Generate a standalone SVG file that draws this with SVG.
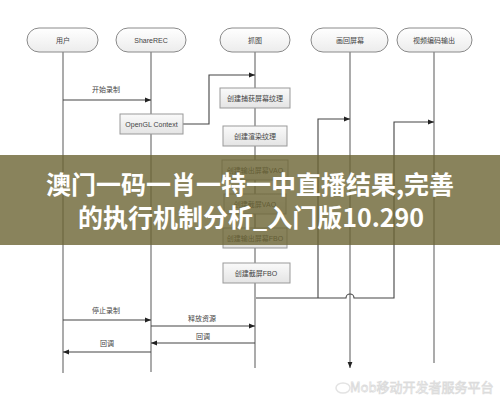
<svg xmlns="http://www.w3.org/2000/svg" width="500" height="400" viewBox="0 0 500 400">
<defs>
<linearGradient id="gh" x1="0" y1="0" x2="0" y2="1"><stop offset="0" stop-color="#ffffff"/><stop offset="1" stop-color="#ececec"/></linearGradient>
<linearGradient id="gb" x1="0" y1="0" x2="0" y2="1"><stop offset="0" stop-color="#fafafa"/><stop offset="1" stop-color="#e4e4e4"/></linearGradient>
<marker id="ar" viewBox="0 0 10 10" refX="10" refY="5" markerWidth="6" markerHeight="6" orient="auto" markerUnits="userSpaceOnUse"><path d="M0,1 L10,5 L0,9 Z" fill="#222"/></marker>
<style>
.head{fill:url(#gh);stroke:#8a8a8a;stroke-width:1}
.box{fill:url(#gb);stroke:#999;stroke-width:1}
.life{stroke:#666;stroke-width:1.1;fill:none}
.msg{stroke:#444;stroke-width:1.1;fill:none}
.t{font-family:"Liberation Sans","Noto Sans CJK SC",sans-serif;font-size:7px;fill:#444;text-anchor:middle}
.ban{font-family:"Noto Sans CJK SC",sans-serif;font-size:25px;font-weight:bold;fill:#fff;text-anchor:middle}
</style>
</defs>
<rect width="500" height="400" fill="#fff"/>
<g id="lifelines">
<line class="life" x1="63" y1="52" x2="63" y2="373"/>
<line class="life" x1="151" y1="52" x2="151" y2="372"/>
<line class="life" x1="255" y1="52" x2="255" y2="368"/>
<line class="life" x1="350" y1="52" x2="350" y2="368" marker-end="url(#ar)"/>
<line class="life" x1="434" y1="52" x2="434" y2="363"/>
</g>
<g id="connectors">
<path class="msg" d="M63 100 H151" marker-end="url(#ar)"/>
<path class="msg" d="M183 124 H209 V75 H255" marker-end="url(#ar)"/>
<path class="msg" d="M256 298 H346 A4 4 0 0 1 354 298 H394 V122 H434" marker-end="url(#ar)"/>
<path class="msg" d="M318 298 V119 H350" marker-end="url(#ar)"/>
<path class="msg" d="M63 320 H151" marker-end="url(#ar)"/>
<path class="msg" d="M151 326 H255" marker-end="url(#ar)"/>
<path class="msg" d="M255 343 H151" marker-end="url(#ar)"/>
<path class="msg" d="M151 352 H63" marker-end="url(#ar)"/>
<text class="t" x="106" y="92">开始录制</text>
<text class="t" x="106" y="313">停止录制</text>
<text class="t" x="202" y="321">释放资源</text>
<text class="t" x="203" y="339">回调</text>
<text class="t" x="107" y="346">回调</text>
</g>
<g id="user"><rect class="head" x="27" y="28" width="71" height="24" rx="12"/><text class="t" x="63" y="42.5">用户</text></g>
<g id="sharerec"><rect class="head" x="116" y="28" width="70" height="24" rx="12"/><text class="t" x="151" y="42.5">ShareREC</text></g>
<g id="capture"><rect class="head" x="220" y="28" width="70" height="24" rx="12"/><text class="t" x="255" y="42.5">抓图</text></g>
<g id="draw"><rect class="head" x="311" y="28" width="77" height="24" rx="12"/><text class="t" x="350" y="42.5">画回屏幕</text></g>
<g id="encode"><rect class="head" x="397" y="28" width="75" height="24" rx="12"/><text class="t" x="434" y="42.5">视频编码输出</text></g>
<g id="opengl"><rect class="box" x="120" y="114" width="63" height="20"/><text class="t" x="151.5" y="126.5">OpenGL Context</text></g>
<g id="b1"><rect class="box" x="220" y="88" width="70" height="20"/><text class="t" x="255" y="100.5">创建捕获屏幕纹理</text></g>
<g id="b2"><rect class="box" x="223" y="126" width="64" height="20"/><text class="t" x="255" y="138.5">创建渲染纹理</text></g>
<g id="b3"><rect class="box" x="222" y="160" width="66" height="20"/><text class="t" x="255" y="172.5">创建输出屏幕VAO</text></g>
<g id="b4"><rect class="box" x="224" y="194" width="62" height="20"/><text class="t" x="255" y="206.5">创建截屏VAO</text></g>
<g id="b5"><rect class="box" x="223" y="228" width="64" height="20"/><text class="t" x="255" y="240.5">创建输出屏幕FBO</text></g>
<g id="b6"><rect class="box" x="223" y="263" width="67" height="20"/><text class="t" x="256" y="275.5">创建截屏FBO</text></g>
<g id="banner">
<rect x="0" y="155" width="500" height="90" fill="#6c6433" opacity="0.8"/>
<text class="ban" x="250" y="194">澳门一码一肖一特一中直播结果,完善</text>
<text class="ban" x="251" y="227">的执行机制分析_入门版10.290</text>
</g>
<g id="watermark" opacity="0.4">
<ellipse cx="343" cy="388" rx="7" ry="5" fill="none" stroke="#bbb" stroke-width="1.5"/>
<text x="350" y="392" font-family="Noto Sans CJK SC,sans-serif" font-size="13" fill="#fff" stroke="#aaa" stroke-width="0.8">Mob移动开发者服务平台</text>
</g>
</svg>
